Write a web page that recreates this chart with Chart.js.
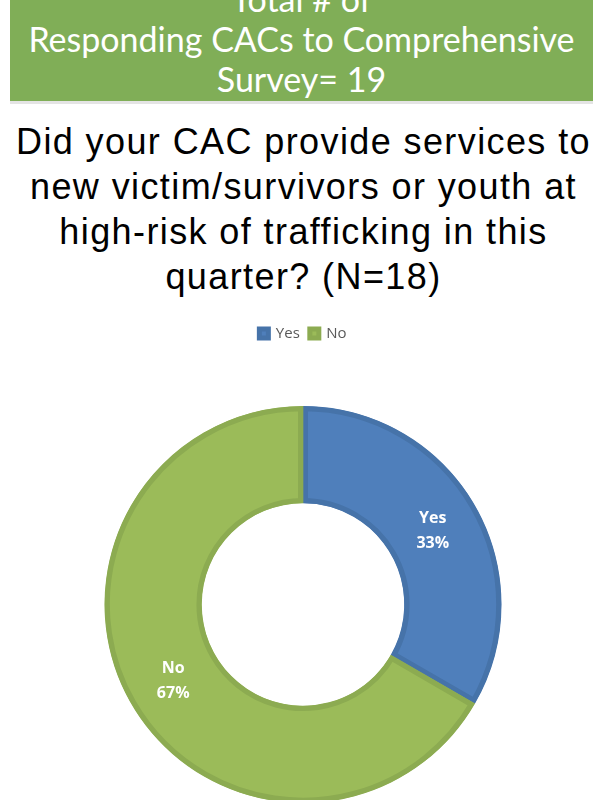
<!DOCTYPE html>
<html lang="en">
<head>
    <meta charset="UTF-8">
    <title>CAC Trafficking Services</title>
    <script src="https://cdn.jsdelivr.net/npm/chart.js"></script>
    <style>
        html, body { margin: 0; padding: 0; background: #fff; overflow: hidden; width: 593px; height: 800px; }
        #header {
            position: absolute; left: 10px; top: 0; width: 583px; height: 101px;
            background: #80ae57; border-bottom: 3px solid #e4e4e4;
            color: #fff; font-family: Lato, "Open Sans", sans-serif; font-size: 34px;
            text-align: center; line-height: 40px; overflow: hidden;
        }
        #header div { position: relative; top: -21px; }
        #title {
            position: absolute; left: 7px; top: 119px; width: 593px;
            font-family: "Liberation Sans", Arial, sans-serif; font-size: 36px;
            letter-spacing: 1.4px;
            line-height: 45px; text-align: center; color: #000;
        }
        #chartContainer { position: absolute; left: 0; top: 316px; width: 593px; height: 487px; }
    </style>
</head>
<body>

    <div id="header"><div>Total # of<br>Responding CACs to Comprehensive<br>Survey= 19</div></div>

    <div id="title">Did your CAC provide services to<br>new victim/survivors or youth at<br>high-risk of trafficking in this<br>quarter? (N=18)</div>

    <div id="chartContainer">
        <canvas id="donutChart"></canvas>
    </div>

    <script>
        const categories = ['Yes', 'No'];
        const counts = [6, 12];
        const percentLabels = ['33%', '67%'];

        const fillColors = ['#4f7fbb', '#9bbb59'];
        const edgeColors = ['#4673a9', '#8cab51'];

        // push the doughnut down below the legend
        const legendGap = {
            id: 'legendGap',
            beforeInit(chart) {
                const origFit = chart.legend.fit;
                chart.legend.fit = function () {
                    origFit.bind(chart.legend)();
                    this.height += 55;
                };
            }
        };

        // white labels inside each slice, like the Excel data labels
        const sliceLabels = {
            id: 'sliceLabels',
            afterDatasetsDraw(chart) {
                const ctx = chart.ctx;
                const meta = chart.getDatasetMeta(0);
                ctx.save();
                ctx.fillStyle = '#ffffff';
                ctx.font = 'bold 16px "Open Sans", sans-serif';
                ctx.textAlign = 'center';
                ctx.textBaseline = 'middle';
                meta.data.forEach((arc, i) => {
                    const pos = arc.tooltipPosition();
                    ctx.fillText(categories[i], pos.x, pos.y - 11);
                    ctx.fillText(percentLabels[i], pos.x, pos.y + 14);
                });
                ctx.restore();
            }
        };

        const ctx = document.getElementById('donutChart').getContext('2d');
        new Chart(ctx, {
            type: 'doughnut',
            data: {
                labels: categories,
                datasets: [{
                    data: counts,
                    backgroundColor: fillColors,
                    borderColor: edgeColors,
                    borderWidth: 5,
                    borderAlign: 'inner',
                    cutout: '51%'
                }]
            },
            options: {
                responsive: true,
                maintainAspectRatio: false,
                animation: false,
                layout: { padding: { top: 0, left: 13, right: 0, bottom: 0 } },
                plugins: {
                    legend: {
                        position: 'top',
                        labels: {
                            boxWidth: 9,
                            boxHeight: 9,
                            padding: 10,
                            color: '#595959',
                            font: { family: '"Open Sans", sans-serif', size: 15 }
                        }
                    },
                    tooltip: { enabled: false }
                }
            },
            plugins: [legendGap, sliceLabels]
        });
    </script>

</body>
</html>
